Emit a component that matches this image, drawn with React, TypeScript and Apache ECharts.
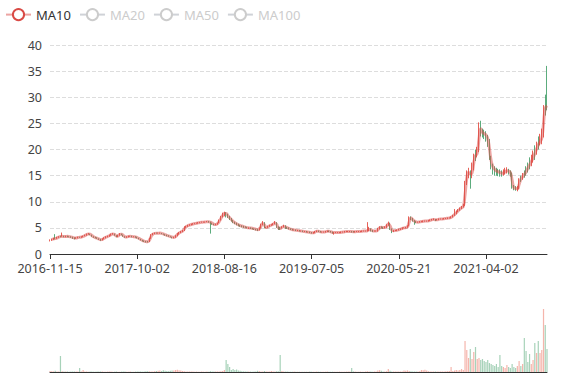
import { useEffect, useRef } from "react";
import * as echarts from "echarts";

// Labelled dates on the x axis (one label every 50 sampled points)
const labelDates = ["2016-11-15", "2017-10-02", "2018-08-16", "2019-07-05", "2020-05-21", "2021-04-02"];
const pointsPerLabel = 50;

// [open, close, low, high] (one point ≈ 4–5 trading days)
const ohlc: number[][] = [
  [2.5, 2.6, 2.4, 2.8], [2.6, 2.8, 2.5, 2.9], [2.8, 3.0, 2.7, 3.1], [3.0, 2.9, 2.8, 3.8], [2.9, 3.2, 2.9, 3.3],
  [3.2, 3.3, 3.1, 3.4], [3.45, 3.35, 3.2, 3.5], [3.35, 3.4, 3.3, 4.1], [3.4, 3.3, 3.2, 3.5], [3.3, 3.4, 3.2, 3.5],
  [3.4, 3.35, 3.2, 3.5], [3.35, 3.3, 3.2, 3.4], [3.3, 3.25, 3.1, 3.4], [3.25, 3.1, 2.9, 3.3], [3.1, 3.05, 2.8, 3.2],
  [3.05, 3.1, 2.9, 3.2], [3.1, 3.2, 3.0, 3.3], [3.3, 3.2, 3.1, 3.3], [3.2, 3.3, 3.1, 3.4], [3.3, 3.45, 3.2, 3.5],
  [3.45, 3.6, 3.4, 3.7], [3.6, 3.8, 3.5, 3.9], [3.8, 3.9, 3.7, 4.0], [3.9, 3.7, 3.6, 3.9], [3.7, 3.4, 3.3, 3.7],
  [3.4, 3.2, 3.1, 3.4], [3.2, 3.1, 3.0, 3.3], [3.1, 2.95, 2.9, 3.2], [2.95, 2.8, 2.7, 3.0], [2.8, 2.7, 2.5, 2.9],
  [2.7, 2.9, 2.6, 3.0], [2.9, 3.1, 2.8, 3.2], [3.1, 3.3, 3.0, 3.4], [3.3, 3.4, 3.2, 3.5], [3.4, 3.6, 3.3, 3.7],
  [3.6, 3.8, 3.5, 3.9], [3.8, 3.9, 3.7, 4.0], [3.9, 3.6, 3.5, 3.9], [3.6, 3.3, 3.2, 3.6], [3.3, 3.6, 3.2, 3.7],
  [3.6, 3.9, 3.5, 4.0], [3.9, 3.7, 3.6, 3.9], [3.7, 3.4, 3.3, 3.7], [3.4, 3.2, 3.1, 3.4], [3.2, 3.3, 3.1, 3.4],
  [3.3, 3.4, 3.2, 3.5], [3.4, 3.4, 3.3, 3.5], [3.4, 3.3, 3.2, 3.5], [3.3, 3.3, 3.2, 3.4], [3.3, 3.2, 3.1, 3.4],
  // 50
  [3.2, 3.1, 3.0, 3.3], [3.1, 2.9, 2.8, 3.1], [2.9, 2.7, 2.6, 2.9], [2.7, 2.5, 2.4, 2.7], [2.5, 2.4, 2.3, 2.6],
  [2.4, 2.35, 2.2, 2.5], [2.35, 2.3, 2.2, 2.5], [2.3, 3.0, 2.3, 3.1], [3.0, 3.7, 2.9, 3.8], [3.7, 3.9, 3.6, 4.0],
  [3.9, 4.0, 3.8, 4.1], [4.0, 3.95, 3.9, 4.1], [3.95, 4.0, 3.9, 4.1], [4.0, 4.0, 3.9, 4.1], [4.0, 3.9, 3.8, 4.0],
  [3.9, 3.8, 3.7, 3.9], [3.8, 3.6, 3.5, 3.8], [3.6, 3.55, 3.4, 3.7], [3.55, 3.4, 3.3, 3.6], [3.4, 3.3, 3.2, 3.4],
  [3.3, 3.2, 3.0, 3.3], [3.2, 3.2, 3.0, 3.3], [3.2, 3.5, 3.1, 3.6], [3.5, 3.9, 3.4, 4.0], [3.9, 4.1, 3.7, 4.2],
  [4.1, 4.3, 4.0, 4.4], [4.3, 4.5, 4.2, 4.6], [4.5, 5.1, 4.4, 5.3], [5.1, 5.3, 5.0, 5.4], [5.3, 5.5, 5.2, 5.6],
  [5.5, 5.6, 5.4, 5.7], [5.6, 5.7, 5.5, 5.8], [5.7, 5.8, 5.6, 5.9], [5.8, 5.85, 5.7, 5.9], [5.85, 5.9, 5.8, 6.0],
  [5.9, 6.0, 5.8, 6.1], [6.0, 6.05, 5.9, 6.1], [6.05, 6.1, 6.0, 6.2], [6.1, 6.1, 6.0, 6.2], [6.1, 6.15, 6.0, 6.2],
  [6.15, 6.2, 6.1, 6.3], [6.2, 6.15, 6.0, 6.3], [6.2, 6.0, 3.9, 6.2], [6.0, 5.8, 5.6, 6.0], [5.8, 5.6, 5.5, 5.8],
  [5.6, 5.7, 5.5, 5.8], [5.7, 5.9, 5.6, 6.0], [5.9, 6.5, 5.9, 6.6], [6.5, 7.1, 6.4, 7.3], [7.1, 7.6, 7.0, 7.9],
  // 100
  [7.6, 7.9, 7.2, 8.1], [7.9, 7.6, 7.0, 8.0], [7.6, 7.1, 6.9, 7.7], [7.1, 6.8, 6.5, 7.3], [6.8, 6.4, 6.2, 6.9],
  [6.4, 6.1, 5.9, 6.5], [6.1, 5.9, 5.7, 6.2], [5.9, 5.7, 5.5, 6.0], [5.7, 5.5, 5.3, 5.8], [5.5, 5.4, 5.2, 5.6],
  [5.4, 5.3, 5.1, 5.5], [5.3, 5.2, 5.0, 5.4], [5.2, 5.1, 5.0, 5.3], [5.1, 5.0, 4.9, 5.2], [5.0, 5.0, 4.8, 5.1],
  [5.0, 4.95, 4.8, 5.1], [4.95, 4.9, 4.7, 5.0], [4.9, 4.8, 4.6, 4.9], [4.8, 4.7, 4.5, 4.8], [4.7, 4.6, 4.4, 4.8],
  [4.6, 5.0, 4.5, 5.1], [5.0, 5.6, 4.9, 5.8], [5.6, 6.1, 5.5, 6.3], [6.1, 5.0, 4.9, 6.1], [5.0, 5.1, 4.9, 5.2],
  [5.1, 5.3, 5.0, 5.4], [5.3, 5.5, 5.2, 5.6], [5.5, 5.6, 5.4, 5.7], [5.6, 5.8, 5.5, 5.9], [5.8, 6.1, 5.7, 6.3],
  [6.1, 5.2, 5.0, 6.1], [5.2, 4.8, 4.6, 5.3], [5.1, 5.0, 4.6, 5.2], [5.0, 5.2, 4.9, 5.3], [5.2, 5.3, 5.1, 5.6],
  [5.3, 5.1, 4.8, 5.5], [5.1, 5.0, 4.8, 5.2], [5.0, 4.8, 4.7, 5.1], [4.8, 4.7, 4.6, 4.9], [4.7, 4.6, 4.5, 4.8],
  [4.6, 4.6, 4.5, 4.7], [4.6, 4.5, 4.4, 4.7], [4.5, 4.5, 4.4, 4.6], [4.5, 4.4, 4.3, 4.6], [4.4, 4.4, 4.3, 4.5],
  [4.4, 4.3, 4.2, 4.5], [4.3, 4.3, 4.2, 4.4], [4.3, 4.2, 4.1, 4.4], [4.2, 4.2, 4.1, 4.3], [4.2, 4.1, 4.0, 4.3],
  // 150
  [4.1, 4.0, 3.9, 4.2], [4.0, 4.1, 3.9, 4.2], [4.1, 4.3, 4.0, 4.4], [4.3, 4.4, 4.2, 4.5], [4.4, 4.3, 4.2, 4.5],
  [4.3, 4.2, 4.1, 4.4], [4.2, 4.2, 4.1, 4.3], [4.2, 4.2, 4.1, 4.3], [4.2, 4.3, 4.1, 4.4], [4.3, 4.4, 4.2, 4.5],
  [4.4, 4.3, 4.2, 4.5], [4.3, 4.2, 4.1, 4.4], [4.2, 4.1, 3.9, 4.3], [4.1, 4.1, 3.7, 4.2], [4.1, 4.1, 4.0, 4.2],
  [4.1, 4.1, 4.0, 4.2], [4.1, 4.1, 4.0, 4.2], [4.1, 4.2, 4.0, 4.3], [4.2, 4.2, 4.1, 4.3], [4.2, 4.3, 4.1, 4.4],
  [4.3, 4.3, 4.2, 4.4], [4.3, 4.3, 4.2, 4.4], [4.3, 4.3, 4.2, 4.4], [4.4, 4.3, 4.1, 4.4], [4.3, 4.2, 4.1, 4.4],
  [4.2, 4.3, 4.1, 4.4], [4.3, 4.3, 4.2, 4.4], [4.3, 4.3, 4.2, 4.4], [4.3, 4.3, 4.2, 4.4], [4.3, 4.4, 4.2, 4.5],
  [4.4, 4.4, 4.3, 4.5], [4.4, 4.4, 4.3, 4.5], [4.4, 4.5, 4.3, 6.1], [4.5, 4.8, 4.4, 5.2], [4.8, 4.5, 4.3, 4.9],
  [4.5, 4.4, 4.2, 4.6], [4.4, 4.4, 4.3, 4.5], [4.4, 4.4, 4.3, 4.5], [4.4, 4.8, 4.3, 5.0], [4.8, 5.15, 4.7, 5.3],
  [5.15, 5.1, 4.9, 5.3], [5.1, 5.0, 4.8, 5.2], [5.0, 5.1, 4.9, 5.3], [5.1, 5.5, 5.0, 5.7], [5.5, 6.0, 5.4, 6.2],
  [6.0, 4.8, 4.6, 6.0], [4.8, 4.4, 4.0, 4.9], [4.4, 4.5, 4.2, 4.6], [4.5, 4.5, 4.4, 4.6], [4.5, 4.6, 4.4, 4.7],
  // 200
  [4.6, 4.7, 4.5, 4.8], [4.7, 4.8, 4.6, 4.9], [4.8, 5.0, 4.7, 5.1], [5.0, 5.0, 4.9, 5.1], [5.0, 5.1, 4.9, 5.2],
  [5.1, 5.3, 5.0, 5.5], [5.3, 7.0, 5.3, 7.2], [7.0, 6.8, 6.5, 7.2], [6.8, 6.4, 6.2, 6.9], [6.4, 6.2, 5.6, 6.5],
  [6.2, 6.1, 5.9, 6.3], [6.1, 6.1, 6.0, 6.2], [6.1, 6.2, 6.0, 6.3], [6.2, 6.2, 6.1, 6.3], [6.2, 6.3, 6.1, 6.4],
  [6.3, 6.3, 6.2, 6.4], [6.3, 6.3, 6.2, 6.4], [6.3, 6.4, 6.2, 6.5], [6.4, 6.5, 6.3, 6.6], [6.5, 6.6, 6.4, 6.7],
  [6.6, 6.6, 6.5, 6.8], [6.6, 6.5, 6.3, 6.7], [6.5, 6.6, 6.4, 6.7], [6.6, 6.7, 6.5, 6.8], [6.7, 6.7, 6.6, 6.8],
  [6.7, 6.7, 6.6, 6.8], [6.7, 6.8, 6.6, 6.9], [6.8, 6.8, 6.7, 6.9], [6.8, 6.9, 6.7, 7.0], [6.9, 6.9, 6.8, 7.0],
  [6.9, 7.1, 6.8, 7.2], [7.1, 7.4, 7.0, 7.5], [7.4, 7.7, 7.3, 8.6], [7.7, 8.1, 7.6, 8.3], [8.1, 8.4, 8.0, 8.6],
  [8.4, 8.7, 8.3, 8.9], [8.7, 9.0, 8.6, 9.2], [9.0, 9.2, 8.9, 9.6], [9.2, 13.5, 9.2, 14.0], [13.5, 15.4, 13.2, 16.0],
  [15.4, 15.8, 14.5, 16.5], [15.8, 14.8, 12.5, 16.0], [14.8, 16.2, 14.5, 17.5], [16.2, 18.6, 16.0, 19.2], [19.3, 19.0, 17.8, 20.0],
  [19.0, 19.6, 18.5, 20.5], [19.6, 24.4, 19.5, 25.2], [24.4, 23.5, 22.5, 25.5], [23.5, 23.1, 22.3, 24.0], [23.1, 23.0, 22.0, 23.8],
  // 250
  [23.0, 22.5, 21.5, 23.5], [22.5, 21.8, 20.5, 22.8], [21.8, 18.6, 18.0, 22.0], [18.6, 17.0, 16.2, 18.8], [17.0, 16.4, 15.2, 17.3],
  [16.4, 16.0, 15.0, 16.8], [16.0, 15.8, 15.0, 16.5], [15.8, 15.7, 14.9, 16.3], [15.7, 15.5, 14.8, 16.2], [15.5, 15.4, 14.8, 16.0],
  [15.4, 15.6, 15.0, 16.2], [15.6, 15.9, 15.2, 16.5], [15.9, 16.0, 15.4, 16.6], [16.0, 15.7, 15.2, 16.3], [15.7, 15.5, 14.8, 16.0],
  [15.5, 12.8, 12.5, 15.6], [12.8, 12.6, 12.2, 13.2], [12.6, 12.5, 12.1, 13.0], [12.5, 12.5, 12.0, 13.0], [12.5, 14.1, 12.4, 14.5],
  [14.8, 14.5, 13.8, 15.0], [14.5, 15.0, 14.2, 15.5], [15.6, 15.4, 14.6, 16.0], [16.3, 16.0, 15.0, 16.8], [17.0, 16.8, 15.6, 17.5],
  [17.6, 17.3, 16.2, 18.5], [17.3, 18.0, 16.8, 19.0], [18.0, 18.8, 17.5, 19.8], [19.9, 19.6, 18.0, 20.8], [19.6, 20.5, 19.0, 21.5],
  [21.5, 21.2, 20.0, 22.5], [21.2, 21.8, 20.8, 23.0], [21.8, 22.5, 21.0, 24.0], [22.5, 27.5, 22.3, 28.5], [29.5, 28.2, 26.5, 30.5],
  [32.0, 28.6, 27.5, 36.0],
];

// Volume per point (relative units)
const volumes: number[] = [
  1, 0.8, 0.6, 1.2, 0.5, 0.6, 16, 0.8, 0.5, 0.4, 0.5, 0.3, 0.4, 0.6, 0.5, 0.4, 0.5, 4, 0.6, 2,
  0.5, 0.4, 0.3, 0.4, 0.5, 0.3, 0.3, 0.4, 0.6, 0.5, 0.4, 0.3, 0.3, 0.4, 0.5, 0.4, 0.3, 0.3, 0.4, 0.3,
  0.3, 0.4, 0.5, 0.4, 0.3, 0.3, 0.4, 0.3, 0.3, 0.4, 0.5, 0.6, 0.4, 0.3, 0.5, 0.7, 0.8, 0.6, 0.5, 0.6,
  0.8, 0.9,
  1.2, 1.5, 1.0, 1.8, 1.3, 1.0, 0.8, 1.2, 1.5, 1.6, 2.0, 2.2, 1.8, 1.4, 1.0,
  0.8, 0.6, 0.5, 0.5, 0.4, 0.4, 0.3, 0.4, 0.3, 0.3, 0.4, 0.3, 0.3, 0.4, 0.3, 0.8, 0.5, 0.4, 0.4, 0.5,
  0.6, 0.8, 1.0, 2.0,
  12, 8, 5, 2, 3, 2, 2.5,
  1.5, 1.2, 0.8, 0.6, 0.5, 0.5, 0.4, 0.4, 0.3, 0.4, 0.5, 1.2, 1.0, 0.6, 0.5, 1.0, 0.6, 0.5, 0.4, 1.0,
  0.6, 0.5, 0.8, 0.6,
  17,
  1.0, 0.6, 0.4, 0.4, 0.3, 0.3, 0.3, 0.4, 0.3, 0.3, 0.3, 0.3, 0.3, 0.3, 0.3, 0.3, 0.4, 0.3, 0.3, 0.3,
  0.4, 0.3, 0.3, 0.3, 0.3, 0.3, 0.4, 0.3, 0.3, 0.3, 0.3, 0.3, 0.3, 0.4, 0.3, 0.3, 0.3, 0.4, 0.5, 0.6,
  4,
  0.6, 0.4, 0.3, 0.3, 0.4, 0.3, 0.3, 0.5, 0.8, 0.6, 0.4, 0.3, 0.4, 0.5,
  1.5, 1.8, 1.2, 0.5, 0.6, 0.8, 3,
  1.2, 0.6, 0.5, 0.4, 0.4, 0.5, 0.5, 0.6,
  1.5, 1.2, 1.6,
  1.0, 0.8, 0.6, 0.5, 0.5, 0.6, 0.8,
  2.0, 1.8, 2.2, 1.5,
  0.8, 0.6, 0.5, 0.5, 0.4, 0.5, 0.6, 0.5, 0.5, 0.6, 0.7, 0.8, 1.0,
  5, 1.0, 1.5, 2.0, 1.5, 2.0, 3, 2,
  31, 22, 14, 23, 13, 20, 25, 13, 14, 12,
  13, 11, 10, 12, 9, 8, 7, 6, 8, 5,
  17, 6, 5, 4, 7, 5, 4, 8, 5, 4,
  6, 11, 6, 8, 34, 21, 10, 18, 8, 12,
  29, 19, 31, 19, 22, 63, 47, 23,
];

const maNames = ["MA10", "MA20", "MA50", "MA100"];
// window lengths in sampled points (each point ≈ 4.4 trading days)
const maWindows = [2, 5, 11, 23];
const maColors = ["#d94a45", "#91cc75", "#fac858", "#5470c6"];

const upColor = "#e2463c";
const downColor = "#3f9d66";

function buildDates(n: number): string[] {
  const day = 86400000;
  const t = labelDates.map((d) => Date.parse(d + "T00:00:00Z"));
  const out: string[] = [];
  for (let i = 0; i < n; i++) {
    const s = Math.min(Math.floor(i / pointsPerLabel), t.length - 2);
    const j = i - s * pointsPerLabel;
    const ms = t[s] + ((t[s + 1] - t[s]) * j) / pointsPerLabel;
    out.push(new Date(Math.round(ms / day) * day).toISOString().slice(0, 10));
  }
  return out;
}

function movingAverage(w: number): (number | string)[] {
  return ohlc.map((_, i) => {
    if (i < w - 1) return "-";
    let s = 0;
    for (let k = i - w + 1; k <= i; k++) s += ohlc[k][1];
    return +(s / w).toFixed(3);
  });
}

export default function App() {
  const ref = useRef<HTMLDivElement>(null);
  useEffect(() => {
    if (!ref.current) return;
    const chart = echarts.init(ref.current, undefined, { renderer: "svg" });
    const dates = buildDates(ohlc.length);
    const volData = ohlc.map((r, i) => ({
      value: volumes[i] ?? 0,
      itemStyle: { color: r[1] >= r[0] ? "rgba(232,90,70,0.45)" : "rgba(60,155,100,0.45)" },
    }));
    chart.setOption({
      animation: false,
      textStyle: { fontFamily: "Noto Sans, sans-serif" },
      legend: {
        data: maNames,
        left: 0,
        top: 3,
        inactiveColor: "#ccc",
        textStyle: { color: "#333", fontSize: 13 },
        selected: { MA10: true, MA20: false, MA50: false, MA100: false },
      },
      grid: [
        { left: 50, right: 30, top: 45, height: 209 },
        { left: 50, right: 30, top: 300, height: 72 },
      ],
      xAxis: [
        {
          type: "category",
          data: dates,
          boundaryGap: false,
          axisLine: { lineStyle: { color: "#333" } },
          axisTick: { interval: pointsPerLabel - 1, lineStyle: { color: "#333" } },
          axisLabel: { interval: pointsPerLabel - 1, color: "#444", fontSize: 12.5 },
          splitLine: { show: false },
        },
        {
          type: "category",
          gridIndex: 1,
          data: dates,
          boundaryGap: false,
          axisLine: { lineStyle: { color: "#333" } },
          axisTick: { show: false },
          axisLabel: { show: false },
          splitLine: { show: false },
        },
      ],
      yAxis: [
        {
          type: "value",
          min: 0,
          max: 40,
          interval: 5,
          axisLine: { show: false },
          axisTick: { show: false },
          axisLabel: { color: "#444", fontSize: 12.5 },
          splitLine: { lineStyle: { type: "dashed", color: "#ddd" } },
        },
        {
          type: "value",
          gridIndex: 1,
          min: 0,
          max: 72,
          axisLine: { show: false },
          axisTick: { show: false },
          axisLabel: { show: false },
          splitLine: { show: false },
        },
      ],
      series: [
        {
          name: "日K",
          type: "candlestick",
          data: ohlc,
          itemStyle: {
            color: upColor,
            color0: downColor,
            borderColor: upColor,
            borderColor0: downColor,
            opacity: 0.85,
          },
        },
        ...maNames.map((n, k) => ({
          name: n,
          type: "line",
          data: movingAverage(maWindows[k]),
          smooth: true,
          showSymbol: false,
          itemStyle: { color: maColors[k] },
          lineStyle: { width: 3, opacity: 0.5, color: maColors[k] },
        })),
        {
          name: "Volume",
          type: "bar",
          xAxisIndex: 1,
          yAxisIndex: 1,
          data: volData,
        },
      ],
    });
    return () => chart.dispose();
  }, []);
  return (
    <div
      ref={ref}
      style={{ position: "absolute", left: 0, top: 0, width: 577, height: 380 }}
    />
  );
}
